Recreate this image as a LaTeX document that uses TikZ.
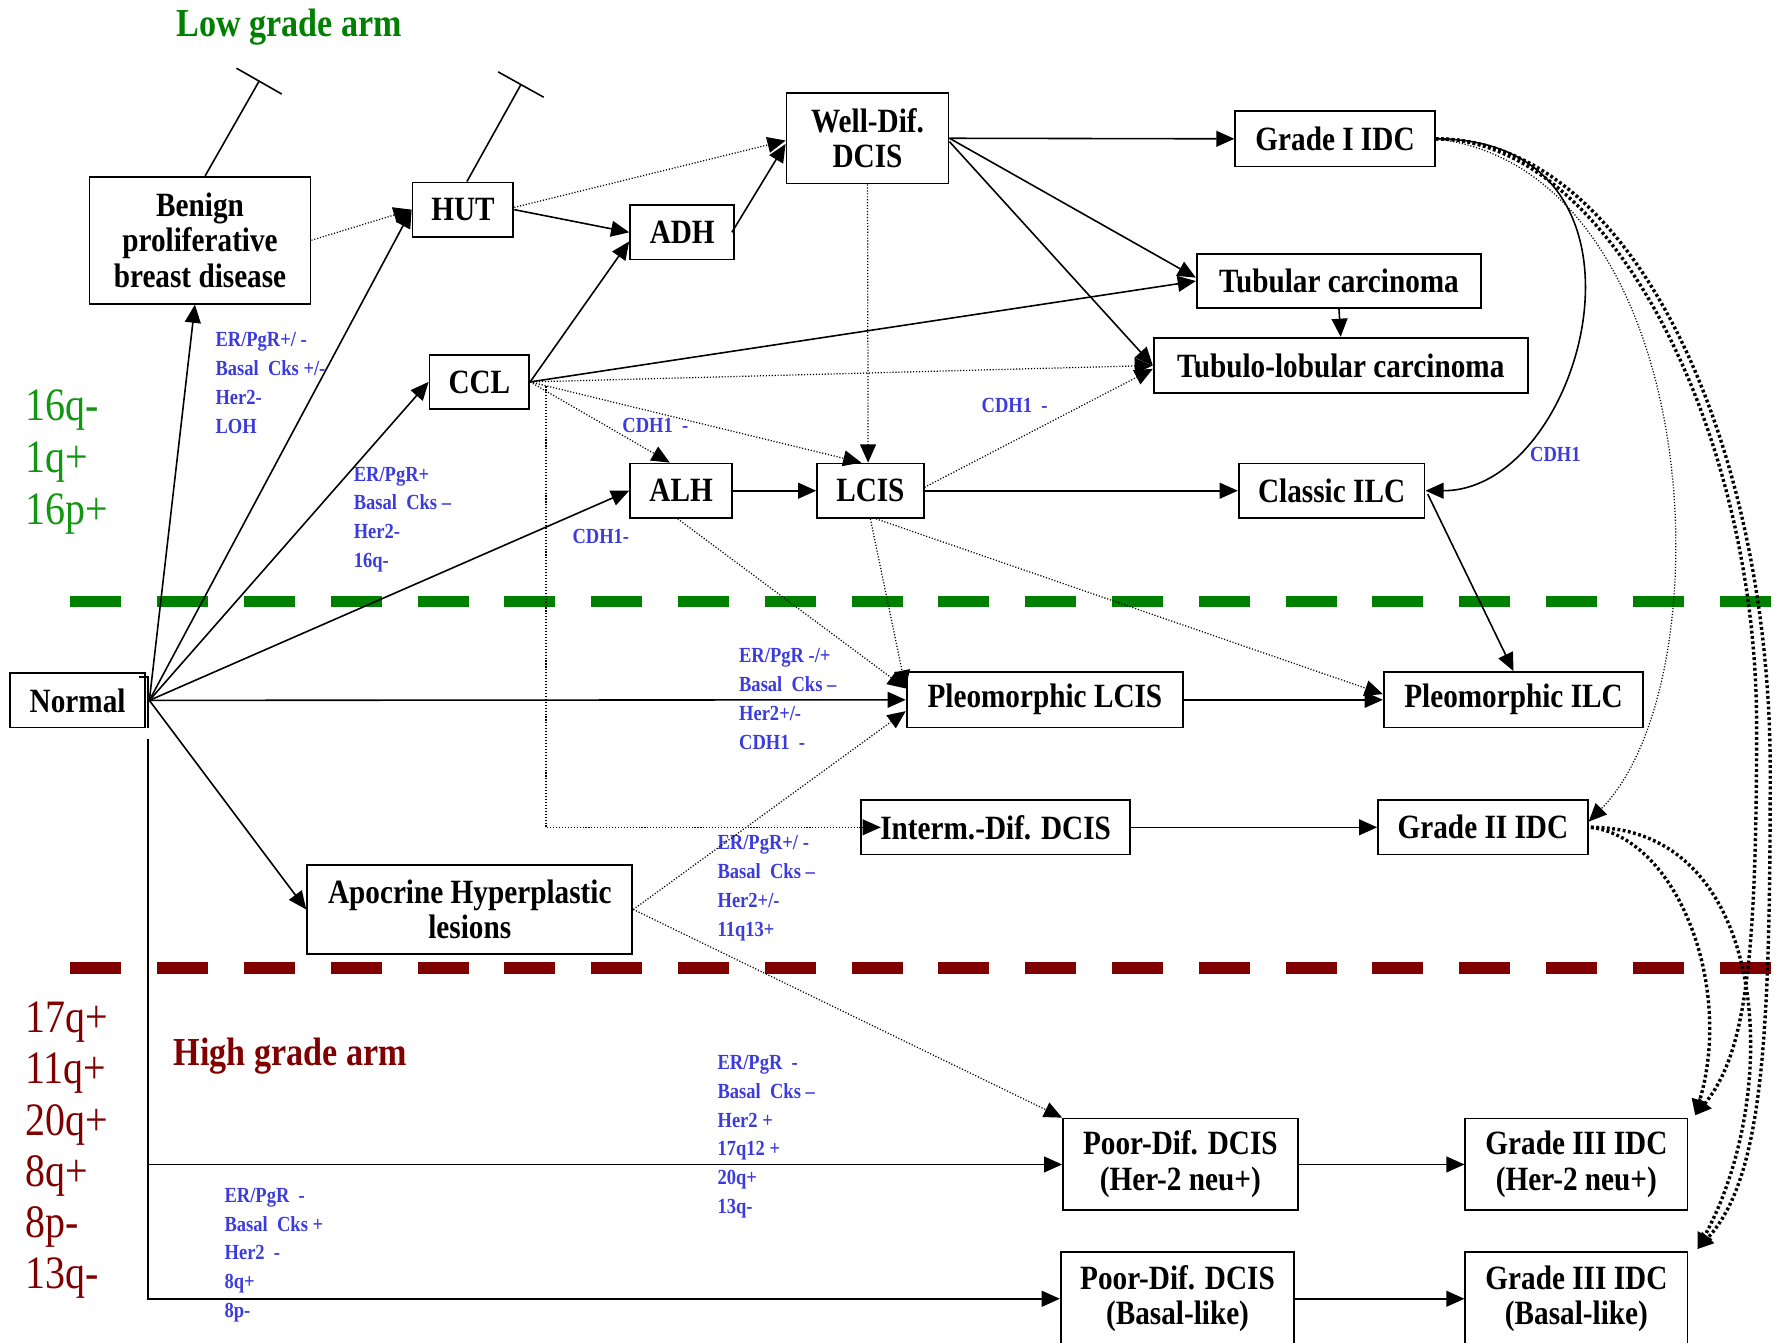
\documentclass[tikz,border=0pt]{standalone}
\usepackage{fontspec}
\setmainfont{Liberation Serif}[FakeStretch=0.86]
\usetikzlibrary{arrows.meta}
\definecolor{lblue}{RGB}{60,60,220}
\definecolor{dgreen}{RGB}{0,128,0}
\definecolor{lgreen}{RGB}{17,150,17}
\definecolor{dred}{RGB}{128,0,0}
\begin{document}
\begin{tikzpicture}[x=1pt,y=-1pt,
  boxn/.style={draw,line width=1.6pt,align=center,inner sep=0pt,font=\fontsize{30}{31.5}\selectfont\bfseries},
  blab/.style={anchor=west,align=left,inner sep=0pt,text=lblue,font=\fontsize{19}{25.5}\selectfont\bfseries},
  solidarr/.style={line width=1.4pt,-{Triangle[length=16pt,width=14pt]}},
  dotarr/.style={line width=1.1pt,dash pattern=on 1pt off 1.6pt,-{Triangle[length=16pt,width=14pt]}},
  tdotarr/.style={line width=3pt,dash pattern=on 2.5pt off 2.2pt,-{Triangle[length=14pt,width=14pt]}},
  sepline/.style={line width=10pt,dash pattern=on 45pt off 31.6pt},
  tbararr/.style={line width=1.4pt,-{Bar[width=46pt,line width=1.4pt]}}
]
\path[fill=white,use as bounding box] (0,0) rectangle (1568,1185);

% separators
\draw[sepline,draw=dgreen] (62,531) -- (1568,531);
\draw[sepline,draw=dred] (62,854) -- (1568,854);

% titles and side labels
\node[anchor=base,inner sep=0pt,text=dgreen,font=\fontsize{35}{40}\selectfont\bfseries] (lowt) at (255,32) {Low grade arm};
\node[anchor=base,inner sep=0pt,text=dred,font=\fontsize{35}{40}\selectfont\bfseries] (hight) at (256,940) {High grade arm};
\node[anchor=west,align=left,inner sep=0pt,text=lgreen,font=\fontsize{41}{46}\selectfont] (gl) at (22,408) {16q-\\1q+\\16p+};
\node[anchor=west,align=left,inner sep=0pt,text=dred,font=\fontsize{41}{45.2}\selectfont] (rl) at (22,1015) {17q+\\11q+\\20q+\\8q+\\8p-\\13q-};

% boxes
\node[boxn,minimum width=195pt,minimum height=112pt] (ben) at (176.5,212) {Benign\\proliferative\\breast disease};
\node[boxn,minimum width=89pt,minimum height=48pt] (hut) at (408.5,185) {HUT};
\node[boxn,minimum width=92pt,minimum height=48pt] (adh) at (602,205) {ADH};
\node[boxn,minimum width=143pt,minimum height=80pt] (wd) at (765.5,122) {Well-Dif.\\DCIS};
\node[boxn,minimum width=176pt,minimum height=49pt] (g1) at (1178,122.5) {Grade I IDC};
\node[boxn,minimum width=251pt,minimum height=48pt] (tub) at (1181.5,248) {Tubular carcinoma};
\node[boxn,minimum width=330pt,minimum height=49pt] (tl) at (1183,322.5) {Tubulo-lobular carcinoma};
\node[boxn,minimum width=88pt,minimum height=48pt] (ccl) at (423,337) {CCL};
\node[boxn,minimum width=90pt,minimum height=48pt] (alh) at (601,433) {ALH};
\node[boxn,minimum width=94pt,minimum height=48pt] (lcis) at (768,433) {LCIS};
\node[boxn,minimum width=164pt,minimum height=48pt] (cilc) at (1175,433) {Classic ILC};
\node[boxn,minimum width=119pt,minimum height=48pt] (norm) at (68.5,618) {Normal};
\node[boxn,minimum width=244pt,minimum height=49pt] (plcis) at (922,617.5) {Pleomorphic LCIS};
\node[boxn,minimum width=229pt,minimum height=49pt] (pilc) at (1335.5,617.5) {Pleomorphic ILC};
\node[boxn,minimum width=237pt,minimum height=48pt] (im) at (878.5,730) {Interm.-Dif. DCIS};
\node[boxn,minimum width=185pt,minimum height=48pt] (g2) at (1308.5,730) {Grade II IDC};
\node[boxn,minimum width=287pt,minimum height=79pt] (apo) at (414.5,802.5) {Apocrine Hyperplastic\\lesions};
\node[boxn,minimum width=207pt,minimum height=81pt] (pd1) at (1041.5,1027.5) {Poor-Dif. DCIS\\(Her-2 neu+)};
\node[boxn,minimum width=196pt,minimum height=81pt] (g3a) at (1391,1027.5) {Grade III IDC\\(Her-2 neu+)};
\node[boxn,minimum width=206pt,minimum height=82pt] (pd2) at (1039,1146) {Poor-Dif. DCIS\\(Basal-like)};
\node[boxn,minimum width=196pt,minimum height=82pt] (g3b) at (1391,1146) {Grade III IDC\\(Basal-like)};

% blue labels
\node[blab] (l1) at (190,338) {ER/PgR+/ -\\Basal~~Cks +/-\\Her2-\\LOH};
\node[blab] (l2) at (312,458.5) {ER/PgR+\\Basal~~Cks –\\Her2-\\16q-};
\node[blab] (l3) at (549,375) {CDH1~~-};
\node[blab] (l4) at (505,473) {CDH1-};
\node[blab] (l5) at (866,358) {CDH1~~-};
\node[blab] (l6) at (1350,401) {CDH1};
\node[blab] (l7) at (652,616.5) {ER/PgR -/+\\Basal~~Cks –\\Her2+/-\\CDH1~~-};
\node[blab] (l8) at (633,784) {ER/PgR+/ -\\Basal~~Cks –\\Her2+/-\\11q13+};
\node[blab] (l9) at (633,1003) {ER/PgR~~-\\Basal~~Cks –\\Her2 +\\17q12 +\\20q+\\13q-};
\node[blab] (l10) at (198,1107.5) {ER/PgR~~-\\Basal~~Cks +\\Her2~~-\\8q+\\8p-};

% inhibition bars
\coordinate (bt1) at (229,71);
\coordinate (bt2) at (460,74);
\draw[tbararr] ([xshift=4.5pt]ben.north) -- (bt1);
\draw[tbararr] ([xshift=3.5pt]hut.north) -- (bt2);

% Normal fan
\coordinate (nf) at ([xshift=3pt]norm.east);
\draw[solidarr] (nf) -- ([xshift=-4.5pt]ben.south);
\draw[solidarr] (nf) -- (hut.west);
\draw[solidarr] (nf) -- (ccl.west);
\draw[solidarr] (nf) -- (alh.west);
\draw[solidarr] (nf) -- (plcis.west);
\draw[solidarr] (nf) -- (apo.west);
\draw[line width=1.4pt] ([xshift=-6pt,yshift=-4pt]norm.north east) -| ([xshift=2pt]norm.south east);
\coordinate (nv) at ([xshift=2pt,yshift=-9pt]norm.south east);
\draw[solidarr] (nv) |- (pd1.west);
\draw[solidarr] (nv) |- (pd2.west);

% upper connectors
\draw[dotarr] (ben.east) -- (hut.west);
\draw[solidarr] (hut.east) -- (adh.west);
\draw[dotarr] ([yshift=2pt]hut.east) -- ([yshift=-2pt]wd.west);
\draw[solidarr] ([xshift=-3pt]adh.east) -- ([yshift=-5pt]wd.west);
\draw[solidarr] (ccl.east) -- ([yshift=-8pt]adh.west);
\draw[solidarr] (wd.east) -- (g1.west);
\draw[solidarr] (wd.east) -- ([yshift=3pt]tub.west);
\draw[solidarr] ([yshift=-3pt]wd.east) -- (tl.west);
\draw[solidarr] (ccl.east) -- (tub.west);
\draw[dotarr] (ccl.east) -- (tl.west);
\draw[dotarr] (ccl.east) -- ([xshift=-10pt]alh.north);
\draw[dotarr] (ccl.east) -- ([xshift=-8pt]lcis.north);
\draw[dotarr] ([xshift=14pt,yshift=-4pt]ccl.east) |- ([xshift=18pt]im.west);
\draw[dotarr] (wd.south) -- ([xshift=-2pt]lcis.north);
\draw[solidarr] (tub.south) -- (tl.north);
\draw[solidarr] (g1.east) .. controls (1480,122) and (1400,433) .. (cilc.east);
\draw[solidarr] (alh.east) -- (lcis.west);
\draw[solidarr] (lcis.east) -- (cilc.west);
\draw[dotarr] ([yshift=3pt]lcis.east) -- ([yshift=-3pt]tl.west);
\draw[solidarr] ([xshift=2pt,yshift=-3pt]cilc.east) -- (pilc.north);

% middle connectors
\draw[dotarr] ([xshift=-3pt]alh.south) -- ([yshift=10pt]plcis.west);
\draw[dotarr] (lcis.south) -- ([yshift=10pt]plcis.west);
\draw[dotarr] ([xshift=5pt]lcis.south) -- ([yshift=5pt]pilc.west);
\draw[solidarr] (plcis.east) -- (pilc.west);
\draw[dotarr] (apo.east) -- ([yshift=-10pt]plcis.west);
\draw[dotarr] (apo.east) -- (pd1.north west);
\draw[solidarr] (im.east) -- (g2.west);
\draw[solidarr] (pd1.east) -- (g3a.west);
\draw[solidarr] (pd2.east) -- (g3b.west);

% right-hand curves
\draw[dotarr] (g1.east) .. controls (1505,150) and (1525,600) .. ([yshift=5pt]g2.east);
\draw[tdotarr] (g1.east) .. controls (1420,122) and (1550,380) .. (1550,640) .. controls (1550,850) and (1540,930) .. ([xshift=6pt,yshift=2pt]g3a.north east);
\draw[tdotarr] (g1.east) .. controls (1440,122) and (1562,390) .. (1562,680) .. controls (1562,920) and (1555,1040) .. ([xshift=8pt,yshift=2pt]g3b.north east);
\draw[tdotarr] ([xshift=2pt]g2.east) .. controls (1480,740) and (1530,870) .. ([xshift=6pt,yshift=2pt]g3a.north east);
\draw[tdotarr] ([xshift=2pt]g2.east) .. controls (1560,730) and (1575,960) .. ([xshift=8pt,yshift=2pt]g3b.north east);
\end{tikzpicture}
\end{document}
